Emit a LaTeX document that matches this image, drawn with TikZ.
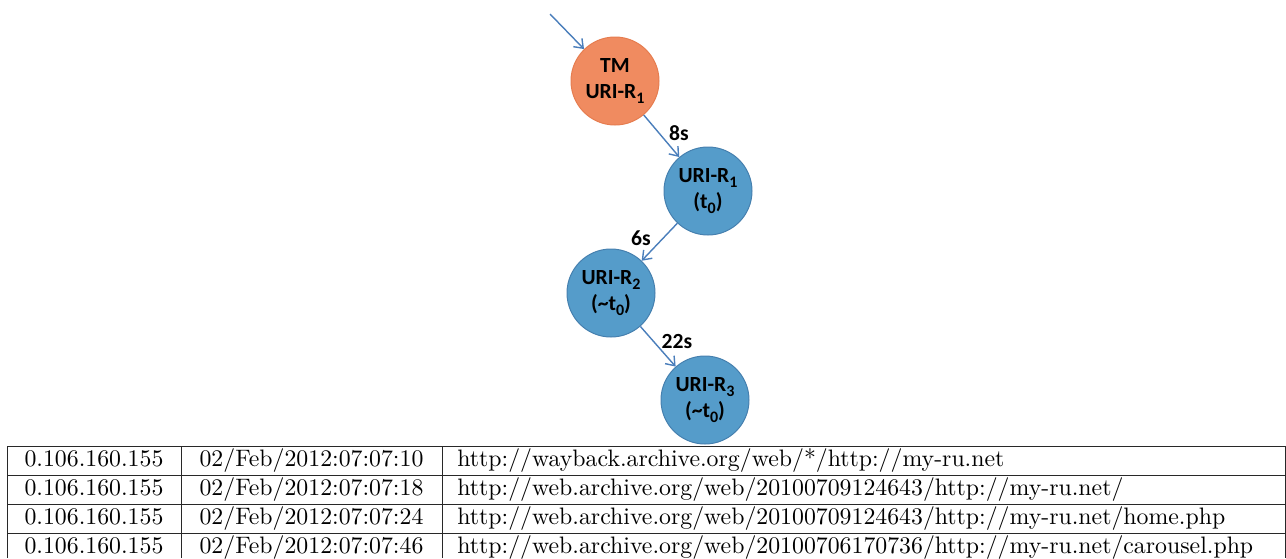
\documentclass[tikz,border=0pt]{standalone}
\usepackage{fontspec}
\newfontfamily\carl{Carlito}
\newfontfamily\lmten{lmroman10-regular.otf}
\usetikzlibrary{arrows.meta}
\definecolor{orangefill}{RGB}{240,139,96}
\definecolor{orangeline}{RGB}{230,125,80}
\definecolor{bluefill}{RGB}{85,156,202}
\definecolor{blueline}{RGB}{70,128,175}
\definecolor{arrowblue}{RGB}{74,126,187}
\definecolor{rule}{RGB}{40,40,40}
\newcommand{\lsub}[1]{\raisebox{-2.2pt}{\fontsize{8}{8}\selectfont #1}}
\begin{document}
\begin{tikzpicture}[x=0.5pt,y=-0.5pt,
  state/.style={circle, minimum size=44pt, inner sep=0pt, align=center, line width=0.5pt,
    font=\carl\bfseries\fontsize{10.8}{13}\selectfont},
  tmstate/.style={state, fill=orangefill, draw=orangeline},
  uristate/.style={state, fill=bluefill, draw=blueline},
  link/.style={draw=arrowblue, line width=0.7pt, -{Straight Barb[length=4pt,width=6pt]}},
  lbl/.style={font=\carl\bfseries\fontsize{10.8}{12}\selectfont, inner sep=0pt},
  cell/.style={font=\lmten\fontsize{11.9}{13}\selectfont, inner sep=0pt, anchor=base},
  lcell/.style={cell, anchor=base west},
  tline/.style={draw=rule, line width=0.5pt}]
\useasboundingbox (0,0) rectangle (1286,558);
% nodes
\node[tmstate] (tm) at (615,81) {TM\\URI-R\lsub{1}};
\node[uristate] (r1) at (708,191) {URI-R\lsub{1}\\(t\lsub{0})};
\node[uristate] (r2) at (611,293) {URI-R\lsub{2}\\(\textasciitilde t\lsub{0})};
\node[uristate] (r3) at (705,400) {URI-R\lsub{3}\\(\textasciitilde t\lsub{0})};
\coordinate (start) at (550,14);
\draw[link] (start) -- (tm);
\draw[link] (tm) -- (r1);
\draw[link] (r1) -- (r2);
\draw[link] (r2) -- (r3);
\node[lbl] (l1) at (679,133) {8s};
\node[lbl] (l2) at (641,238) {6s};
\node[lbl] (l3) at (677,341) {22s};
% table
\foreach \y in {446,475,504,533} \draw[tline] (7,\y) -- (1285,\y);
\foreach \x in {7,181,442,1285} \draw[tline] (\x,446) -- (\x,558);
\node[cell] (ip1) at (94,466) {0.106.160.155};
\node[cell] (ip2) at (94,495) {0.106.160.155};
\node[cell] (ip3) at (94,524) {0.106.160.155};
\node[cell] (ip4) at (94,553) {0.106.160.155};
\node[cell] (d1) at (311.5,466) {02/Feb/2012:07:07:10};
\node[cell] (d2) at (311.5,495) {02/Feb/2012:07:07:18};
\node[cell] (d3) at (311.5,524) {02/Feb/2012:07:07:24};
\node[cell] (d4) at (311.5,553) {02/Feb/2012:07:07:46};
\node[lcell] (u1) at (457,466) {http://wayback.archive.org/web/*/http://my-ru.net};
\node[lcell] (u2) at (457,495) {http://web.archive.org/web/20100709124643/http://my-ru.net/};
\node[lcell] (u3) at (457,524) {http://web.archive.org/web/20100709124643/http://my-ru.net/home.php};
\node[lcell] (u4) at (457,553) {http://web.archive.org/web/20100706170736/http://my-ru.net/carousel.php};
\end{tikzpicture}
\end{document}
